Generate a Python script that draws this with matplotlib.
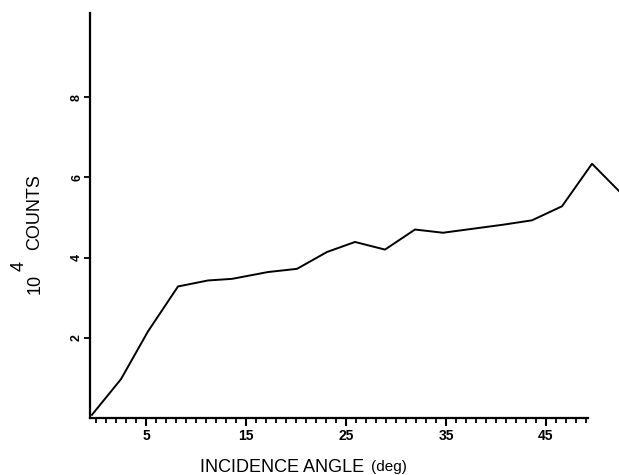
import matplotlib
matplotlib.use('Agg')
import matplotlib.pyplot as plt
from matplotlib.ticker import MultipleLocator, FixedLocator

plt.rcParams['font.family'] = ['Liberation Sans', 'DejaVu Sans']

# incidence angle (deg) and counts (units of 10^4)
angle = [-0.4, 2.5, 5.2, 8.2, 11.2, 13.6, 17.2, 20.1, 23.1, 25.9, 28.9,
         31.9, 34.7, 37.7, 40.7, 43.6, 46.6, 49.6, 52.3]
counts = [0.08, 0.97, 2.16, 3.28, 3.43, 3.47, 3.64, 3.72, 4.14, 4.39, 4.20,
          4.70, 4.62, 4.72, 4.82, 4.93, 5.28, 6.34, 5.66]

xtick_labels = [5, 15, 25, 35, 45]
ytick_labels = [2, 4, 6, 8]

W, H = 619, 475
fig = plt.figure(figsize=(W / 100, H / 100), dpi=100)
ax = fig.add_axes([90 / W, 1 - 418 / H, (588 - 90) / W, (418 - 13) / H])

ax.plot(angle, counts, color='black', lw=1.4, clip_on=False)

ax.set_xlim(-0.6, 49.2)
ax.set_ylim(0, 10.1)

for s in ['top', 'right']:
    ax.spines[s].set_visible(False)
for s in ['left', 'bottom']:
    ax.spines[s].set_linewidth(1.6)

ax.xaxis.set_major_locator(FixedLocator(xtick_labels))
ax.xaxis.set_minor_locator(MultipleLocator(1))
ax.tick_params(axis='x', which='major', direction='out', length=6, width=1.5,
               labelsize=10, pad=2)
ax.tick_params(axis='x', which='minor', direction='out', length=3.5, width=1.3)
for lab in ax.get_xticklabels():
    lab.set_fontweight('bold')

ax.set_yticks(ytick_labels)
ax.tick_params(axis='y', direction='out', length=4, width=1.3, labelsize=9, pad=1)
for lab in ax.get_yticklabels():
    lab.set_rotation(90)
    lab.set_va('center')
    lab.set_fontweight('bold')

# y label pieces: "10" with superscript "4", then "COUNTS"
fig.text(35 / W, 1 - 212 / H, 'COUNTS', rotation=90, ha='center', va='center',
         fontsize=13)
fig.text(35 / W, 1 - 284 / H, '10', rotation=90, ha='center', va='center',
         fontsize=13)
fig.text(19 / W, 1 - 266 / H, '4', rotation=90, ha='center', va='center',
         fontsize=13)

fig.text(200 / W, 1 - 467 / H, 'INCIDENCE ANGLE', ha='left', va='center',
         fontsize=13)
fig.text(371 / W, 1 - 467 / H, '(deg)', ha='left', va='center', fontsize=11)

fig.savefig('out.png', dpi=100)
